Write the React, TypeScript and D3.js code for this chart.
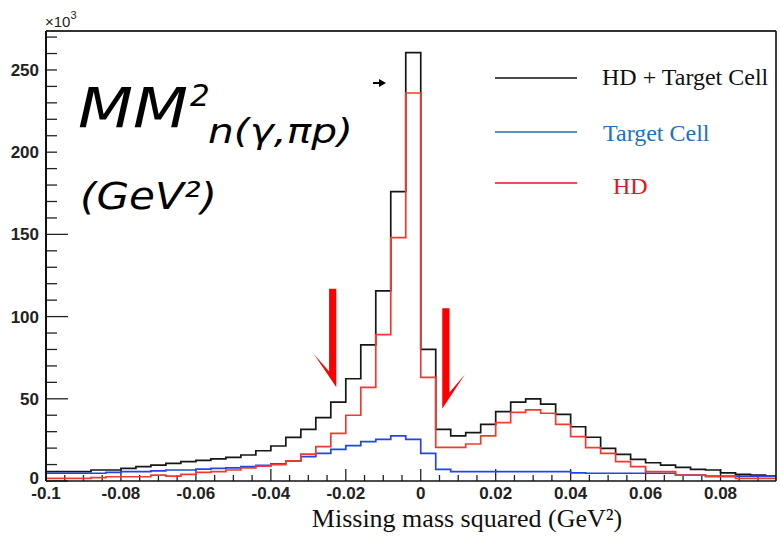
import React from 'react';
import * as d3 from 'd3';

// histogram binning (GeV^2)
const binStart = -0.1;
const binWidth = 0.004;

// counts per bin, in units of 10^3
const totalCounts = [
  5.7, 5.7, 5.7, 6.7, 6.7, 7.7, 8.7, 9.7, 10.7, 11.8, 12.5, 13.5, 14.4, 15.8, 18.4, 21.3, 26.5,
  31.4, 38.5, 48, 62.2, 82.8, 115.6, 176, 260.5, 80, 31.4, 27.4, 29.4, 34.5, 42.2, 48, 50, 46.8,
  40.5, 33, 26.6, 19.9, 16.2, 13.2, 11.1, 9.7, 8.3, 7.1, 6.7, 5, 4, 3.6, 3,
];
const targetCellCounts = [
  4.7, 4.7, 4.7, 4.7, 5.2, 5.7, 5.7, 6.2, 6.7, 6.7, 7.2, 7.7, 8, 8.7, 9.5, 10.5, 12, 14.8, 16.8,
  19.2, 21.5, 23.9, 25.3, 27.4, 25.3, 16.8, 7.1, 5.7, 5.7, 5.7, 5.7, 5.7, 5.7, 5.7, 5.7, 5, 4.7,
  4.7, 4.7, 4.7, 4.7, 4.7, 3.6, 3.6, 3, 3, 3, 3, 3,
];
const hdCounts = [
  1.6, 1.6, 1.6, 2, 2.6, 2.6, 2.6, 3.6, 3, 4, 5.2, 5.7, 6.7, 8, 9, 10, 12.2, 16.4, 20.9, 29, 40,
  57, 89, 148, 236, 63, 20.5, 20.5, 22.5, 27.4, 35.5, 41.8, 43.2, 41.2, 34.5, 27, 20.3, 16.8,
  11.8, 8.7, 5.7, 5.7, 3.6, 3.6, 2.6, 2.6, 1.6, 1.6, 1.6,
];

const seriesNames = ['HD + Target Cell', 'Target Cell', 'HD'];
const lineColors = ['#161616', '#2345e4', '#ef3b2f'];
const legendTextColors = ['#111111', '#1b72bd', '#e8141c'];
const legendLineColors = ['#111111', '#2a6aa6', '#e8141c'];

const xMajorTicks = [-0.1, -0.08, -0.06, -0.04, -0.02, 0, 0.02, 0.04, 0.06, 0.08];
const xTickLabels = ['-0.1', '-0.08', '-0.06', '-0.04', '-0.02', '0', '0.02', '0.04', '0.06', '0.08'];
const yMajorTicks = [0, 50, 100, 150, 200, 250];

// cut arrows: x position, top and tip of the arrow (10^3 counts)
const cutArrows = [
  { x: -0.0235, top: 117, tip: 57, side: 'left' },
  { x: 0.0067, top: 105, tip: 44, side: 'right' },
];

const width = 780;
const height = 536;
const margin = { top: 31, right: 4, bottom: 55, left: 46 };

const App = () => {
  const xScale = d3.scaleLinear()
    .domain([-0.1, 0.0948])
    .range([margin.left, width - margin.right]);

  const yScale = d3.scaleLinear()
    .domain([0, 273.7])
    .range([height - margin.bottom, margin.top]);

  const x0 = margin.left;
  const x1 = width - margin.right;
  const yBase = height - margin.bottom;

  const line = d3.line<[number, number]>();
  const stepPath = (values: number[]) => {
    const pts: [number, number][] = [];
    values.forEach((v, i) => {
      const lo = binStart + i * binWidth;
      pts.push([xScale(lo), yScale(v)], [xScale(lo + binWidth), yScale(v)]);
    });
    return line(pts) || '';
  };

  const xMinor = d3.range(-0.1, 0.0949, 0.005);
  const yMinor = d3.range(0, 271, 10);

  const series = [totalCounts, targetCellCounts, hdCounts];
  const legendY = [78, 132, 183];
  const legendTextX = [602, 603, 613];
  const legendTextY = [85, 141, 194];

  const tickFont = { fontFamily: 'Liberation Sans, Arial, sans-serif', fontSize: 17, fontWeight: 700, fill: '#222' };
  const handFont = { fontFamily: 'DejaVu Sans, sans-serif', fontStyle: 'italic', fill: '#000' };

  return (
    <svg width={width} height={height} style={{ position: 'fixed', left: 0, top: 0, background: '#fff' }}>
      <defs>
        <clipPath id="plot-area">
          <rect x={x0} y={margin.top} width={x1 - x0} height={yBase - margin.top} />
        </clipPath>
      </defs>

      {/* y ticks */}
      {yMinor.map(v => (
        <line key={'ym' + v} x1={x0} x2={x0 + (v % 50 === 0 ? 22 : 11)} y1={yScale(v)} y2={yScale(v)} stroke="#222" strokeWidth={1.3} />
      ))}
      {/* x ticks */}
      {xMinor.map((v, i) => (
        <line key={'xm' + i} x1={xScale(v)} x2={xScale(v)} y1={yBase} y2={yBase - (i % 4 === 0 ? 12 : 6)} stroke="#222" strokeWidth={1.3} />
      ))}

      {/* histograms */}
      <g clipPath="url(#plot-area)" fill="none" strokeWidth={1.7}>
        {series.map((s, i) => (
          <path key={seriesNames[i]} d={stepPath(s)} stroke={lineColors[i]} />
        ))}
      </g>

      {/* frame */}
      <line x1={x0} x2={x1} y1={margin.top} y2={margin.top} stroke="#333" strokeWidth={2} />
      <line x1={x1} x2={x1} y1={margin.top} y2={yBase} stroke="#111" strokeWidth={1.6} />
      <line x1={x0} x2={x0} y1={margin.top} y2={yBase} stroke="#111" strokeWidth={2} />
      <line x1={x0} x2={x1} y1={yBase} y2={yBase} stroke="#111" strokeWidth={1.6} />

      {/* tick labels */}
      {yMajorTicks.map(v => (
        <text key={'yl' + v} x={39} y={yScale(v)} dy={v === 0 ? '0.2em' : '0.36em'} textAnchor="end" {...tickFont}>{v}</text>
      ))}
      {xMajorTicks.map((v, i) => (
        <text key={'xl' + v} x={xScale(v)} y={499} textAnchor="middle" {...tickFont}>{xTickLabels[i]}</text>
      ))}
      <text x={45} y={27} fontFamily="Liberation Sans, Arial, sans-serif" fontSize={15} fill="#222">
        ×10<tspan dy={-8} fontSize={11}>3</tspan>
      </text>

      {/* x axis title */}
      <text x={467} y={527} textAnchor="middle" fontFamily="Liberation Serif, serif" fontSize={26} fill="#111">
        Missing mass squared (GeV²)
      </text>

      {/* annotation box */}
      <rect x={57} y={37} width={290} height={190} fill="#fff" />
      <text x={78} y={127} fontSize={56} textLength={110} lengthAdjust="spacingAndGlyphs" {...handFont}>MM</text>
      <text x={190} y={106} fontSize={31} {...handFont}>2</text>
      <text x={208} y={143} fontSize={34} textLength={145} lengthAdjust="spacingAndGlyphs" {...handFont}>n(γ,πp)</text>
      <text x={80} y={209} fontSize={38} textLength={137} lengthAdjust="spacingAndGlyphs" {...handFont}>(GeV²)</text>
      {/* small pointer arrow */}
      <line x1={373} x2={381} y1={83} y2={83} stroke="#000" strokeWidth={2} />
      <polygon points="379,79 386,83 379,87" fill="#000" />

      {/* cut arrows */}
      {cutArrows.map(a => {
        const cx = xScale(a.x);
        const top = yScale(a.top);
        const tip = yScale(a.tip);
        const h = tip - top;
        const s = a.side === 'left' ? 1 : -1;
        const inner = cx - s * 3.6;
        const outer = cx + s * 3.6;
        const pts = [
          [inner, top], [outer, top], [outer, tip],
          [cx - s * 19, top + h * 0.66], [inner, top + h * 0.84],
        ];
        return <polygon key={a.side} points={pts.map(p => p.join(',')).join(' ')} fill="#ff0000" />;
      })}

      {/* legend */}
      {seriesNames.map((name, i) => (
        <g key={name}>
          <line x1={495} x2={577} y1={legendY[i]} y2={legendY[i]} stroke={legendLineColors[i]} strokeWidth={1.6} />
          <text x={legendTextX[i]} y={legendTextY[i]} fontFamily="Liberation Serif, serif" fontSize={24} fill={legendTextColors[i]}>{name}</text>
        </g>
      ))}
    </svg>
  );
};

export default App;
